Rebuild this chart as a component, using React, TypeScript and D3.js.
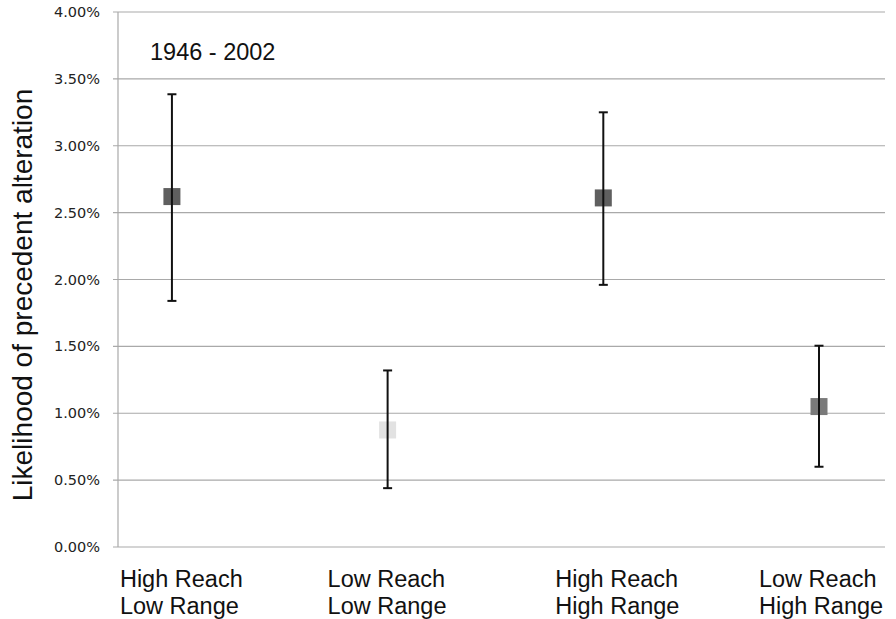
import React from 'react'
import * as d3 from 'd3'

const categories = [
  ['High Reach', 'Low Range'],
  ['Low Reach', 'Low Range'],
  ['High Reach', 'High Range'],
  ['Low Reach', 'High Range'],
]
const means = [2.62, 0.875, 2.61, 1.05]
const upper = [3.385, 1.32, 3.25, 1.505]
const lower = [1.84, 0.44, 1.96, 0.6]
const markerColors = ['#5e5e5e', '#e2e2e2', '#5e5e5e', '#7a7a7a']
const yTicks = [0, 0.5, 1, 1.5, 2, 2.5, 3, 3.5, 4]
const labelShift = [52, 60, 48, 60]

const W = 896
const H = 619
const left = 118
const right = 885
const top = 12
const bottom = 547

export default function App() {
  const x = d3.scaleLinear().domain([0.75, 4.306]).range([left, right])
  const y = d3.scaleLinear().domain([0, 4]).range([bottom, top])
  const font = '"Liberation Sans", Arial, sans-serif'

  return (
    <svg width={W} height={H} style={{ position: 'absolute', left: 0, top: 0 }}>
      <defs>
        <filter id="soft" x="-30%" y="-30%" width="160%" height="160%">
          <feGaussianBlur stdDeviation="0.7" />
        </filter>
      </defs>
      <rect width={W} height={H} fill="#fff" />
      {yTicks.map(t => (
        <g key={t}>
          <line x1={left - 5} x2={right} y1={y(t)} y2={y(t)} stroke="#a9a9a9" strokeWidth={1.2} />
          <text x={100} y={y(t) + 5} textAnchor="end" fontSize={14.5} fill="#222"
            fontFamily='"DejaVu Sans", sans-serif'>
            {t.toFixed(2)}%
          </text>
        </g>
      ))}
      <line x1={left} x2={left} y1={top} y2={bottom} stroke="#a9a9a9" strokeWidth={1.2} />
      <text x={150} y={60} fontSize={23.5} fontFamily={font} fill="#111">1946 - 2002</text>
      <text transform={`translate(32, 295) rotate(-90)`} textAnchor="middle"
        fontSize={28} fontFamily={font} fill="#111">
        Likelihood of precedent alteration
      </text>
      {means.map((m, i) => {
        const cx = x(i + 1)
        return (
          <g key={i}>
            <rect x={cx - 8.5} y={y(m) - 8.5} width={17} height={17} fill={markerColors[i]} filter="url(#soft)" />
            <line x1={cx} x2={cx} y1={y(upper[i])} y2={y(lower[i])} stroke="#111" strokeWidth={2} />
            <line x1={cx - 4.5} x2={cx + 4.5} y1={y(upper[i])} y2={y(upper[i])} stroke="#111" strokeWidth={2} />
            <line x1={cx - 4.5} x2={cx + 4.5} y1={y(lower[i])} y2={y(lower[i])} stroke="#111" strokeWidth={2} />
          </g>
        )
      })}
      {categories.map((lines, i) => (
        <text key={i} x={x(i + 1) - labelShift[i]} y={587} fontSize={23.5} fontFamily={font} fill="#111">
          {lines.map((l, j) => (
            <tspan key={j} x={x(i + 1) - labelShift[i]} dy={j === 0 ? 0 : 27}>{l}</tspan>
          ))}
        </text>
      ))}
    </svg>
  )
}
